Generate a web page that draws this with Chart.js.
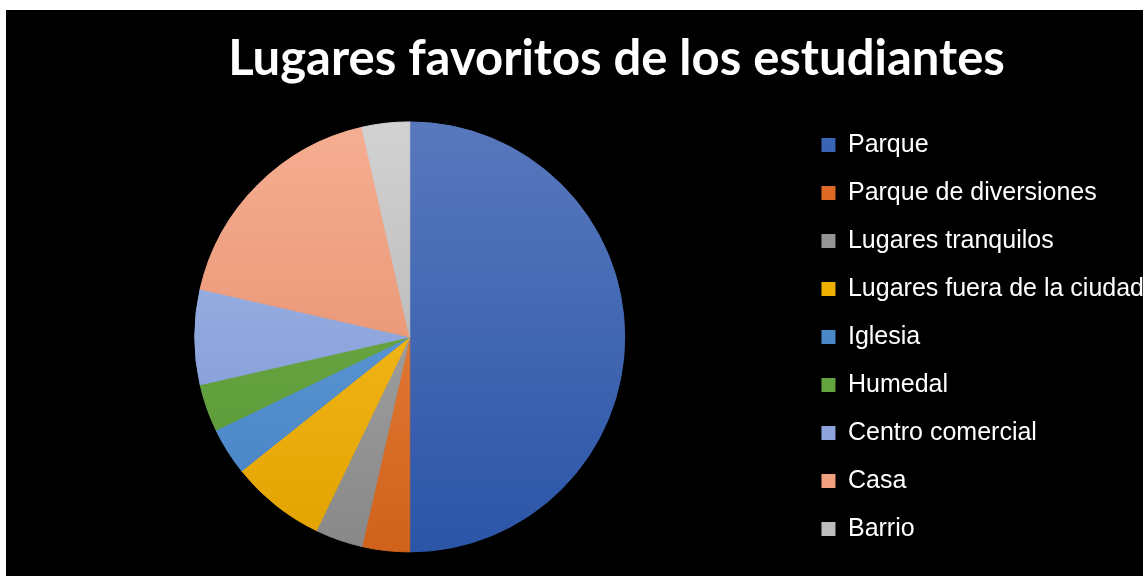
<!DOCTYPE html>
<html>
<head>
<meta charset="utf-8">
<script src="https://cdn.jsdelivr.net/npm/chart.js@4"></script>
<style>
  html, body { margin: 0; background: #fff; }
  #wrap { position: absolute; left: 6px; top: 10px; width: 1137px; height: 566px; background: #000; }
</style>
</head>
<body>
<div id="wrap"><canvas id="pieChart"></canvas></div>
<script>
const lugares = ["Parque", "Parque de diversiones", "Lugares tranquilos", "Lugares fuera de la ciudad",
                 "Iglesia", "Humedal", "Centro comercial", "Casa", "Barrio"];
const estudiantes = [14, 1, 1, 2, 1, 1, 2, 5, 1];

// gradient stops (top of pie -> bottom of pie), and flat colours for the legend
const coloresArriba = ["#5878bd", "#f08c4c", "#b2b2b2", "#ffc42a", "#6ca8df", "#78b24e", "#a9bde9", "#f6ae92", "#d2d2d2"];
const coloresAbajo  = ["#2b55a7", "#d0621b", "#888888", "#e2a300", "#4480c2", "#559433", "#7690d2", "#df8660", "#aaaaaa"];
const coloresLeyenda = ["#3a64b4", "#dc6a24", "#949494", "#eeb000", "#4a88c8", "#64a43e", "#8ea4dc", "#f0a07e", "#bdbdbd"];

const radioPie = 215;

function relleno(ctx) {
  const area = ctx.chart.chartArea;
  const i = ctx.dataIndex;
  if (!area) return coloresLeyenda[i];
  const cy = (area.top + area.bottom) / 2;
  const g = ctx.chart.ctx.createLinearGradient(0, cy - radioPie, 0, cy + radioPie);
  g.addColorStop(0, coloresArriba[i]);
  g.addColorStop(1, coloresAbajo[i]);
  return g;
}

// empty box between the pie and the legend
const hueco = {
  id: "hueco",
  beforeInit(chart) {
    Chart.layouts.addBox(chart, {
      position: "right", weight: 500, fullSize: false, options: {},
      left: 0, top: 0, right: 0, bottom: 0, width: 0, height: 0,
      isHorizontal() { return false; },
      update(maxWidth, maxHeight) { this.width = 58; this.height = maxHeight; },
      draw() {}
    });
  }
};

new Chart(document.getElementById("pieChart"), {
  type: "pie",
  data: {
    labels: lugares,
    datasets: [{
      data: estudiantes,
      backgroundColor: relleno,
      borderColor: relleno,
      borderWidth: 1,
      radius: radioPie
    }]
  },
  options: {
    responsive: true,
    maintainAspectRatio: false,
    animation: false,
    layout: { padding: { left: 73, right: -11, top: 0, bottom: 0 } },
    plugins: {
      title: {
        display: true,
        text: "Lugares favoritos de los estudiantes",
        color: "#ffffff",
        font: { family: "Lato, 'Open Sans', sans-serif", size: 49, weight: "bold" },
        padding: { top: 20, bottom: 9 }
      },
      legend: {
        position: "right",
        fullSize: false,
        maxWidth: 420,
        labels: {
          color: "#ffffff",
          font: { family: "'Liberation Sans', Arial, sans-serif", size: 25 },
          boxWidth: 14,
          boxHeight: 14,
          padding: 23,
          generateLabels(chart) {
            return Chart.controllers.pie.overrides.plugins.legend.labels.generateLabels(chart)
              .map((item, i) => Object.assign(item, { fillStyle: coloresLeyenda[i], strokeStyle: coloresLeyenda[i], lineWidth: 0 }));
          }
        }
      },
      tooltip: { enabled: false }
    }
  },
  plugins: [hueco]
});
</script>
</body>
</html>
